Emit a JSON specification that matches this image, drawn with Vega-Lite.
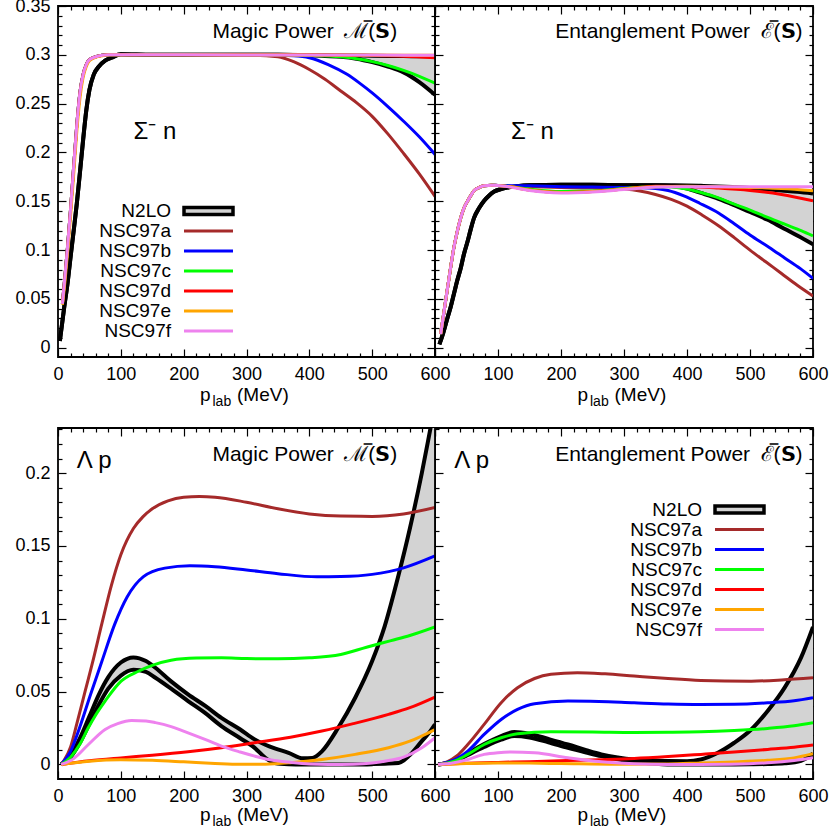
{
"$schema": "https://vega.github.io/schema/vega-lite/v6.json",
"background": "white",
"padding": {"left": 14, "top": -4, "right": 2, "bottom": 2},
"config": {
  "view": {"stroke": "black", "strokeWidth": 1.8},
  "font": "Liberation Sans",
  "axis": {"domain": false, "grid": false, "tickColor": "black", "tickWidth": 1.2, "labelFont": "Liberation Sans", "labelFontSize": 18, "labelColor": "black", "labelPadding": 16, "labelOverlap": false, "labelFlush": false, "labelBound": false},
  "legend": {"labelFont": "Liberation Sans", "labelFontSize": 19, "labelColor": "black"},
  "line": {"interpolate": "monotone"},
  "area": {"interpolate": "monotone"}
},
"datasets": {
"n2lo": [
{"p":"TL","s":"N2LO","x":3,"a":0.007,"b":0.007},{"p":"TL","s":"N2LO","x":10,"a":0.042,"b":0.042},{"p":"TL","s":"N2LO","x":15,"a":0.065,"b":0.065},{"p":"TL","s":"N2LO","x":20,"a":0.093,"b":0.093},{"p":"TL","s":"N2LO","x":25,"a":0.12,"b":0.12},{"p":"TL","s":"N2LO","x":30,"a":0.148,"b":0.148},{"p":"TL","s":"N2LO","x":35,"a":0.18,"b":0.18},{"p":"TL","s":"N2LO","x":40,"a":0.213,"b":0.213},{"p":"TL","s":"N2LO","x":45,"a":0.243,"b":0.243},{"p":"TL","s":"N2LO","x":50,"a":0.264,"b":0.264},{"p":"TL","s":"N2LO","x":57,"a":0.28,"b":0.28},{"p":"TL","s":"N2LO","x":65,"a":0.288,"b":0.288},{"p":"TL","s":"N2LO","x":75,"a":0.294,"b":0.294},{"p":"TL","s":"N2LO","x":85,"a":0.297,"b":0.297},{"p":"TL","s":"N2LO","x":100,"a":0.3005,"b":0.3005},{"p":"TL","s":"N2LO","x":150,"a":0.3,"b":0.3},{"p":"TL","s":"N2LO","x":250,"a":0.3,"b":0.3},{"p":"TL","s":"N2LO","x":350,"a":0.3,"b":0.3},{"p":"TL","s":"N2LO","x":400,"a":0.2998,"b":0.2995},{"p":"TL","s":"N2LO","x":425,"a":0.2997,"b":0.2988},{"p":"TL","s":"N2LO","x":450,"a":0.2995,"b":0.298},{"p":"TL","s":"N2LO","x":475,"a":0.2993,"b":0.296},{"p":"TL","s":"N2LO","x":500,"a":0.2991,"b":0.2925},{"p":"TL","s":"N2LO","x":525,"a":0.2989,"b":0.288},{"p":"TL","s":"N2LO","x":550,"a":0.2987,"b":0.282},{"p":"TL","s":"N2LO","x":575,"a":0.2986,"b":0.272},{"p":"TL","s":"N2LO","x":600,"a":0.2985,"b":0.259},
{"p":"TR","s":"N2LO","x":7,"a":0.0035,"b":0.0035},{"p":"TR","s":"N2LO","x":13,"a":0.015,"b":0.015},{"p":"TR","s":"N2LO","x":20,"a":0.031,"b":0.031},{"p":"TR","s":"N2LO","x":25,"a":0.042,"b":0.042},{"p":"TR","s":"N2LO","x":30,"a":0.055,"b":0.055},{"p":"TR","s":"N2LO","x":35,"a":0.068,"b":0.068},{"p":"TR","s":"N2LO","x":41,"a":0.082,"b":0.082},{"p":"TR","s":"N2LO","x":46,"a":0.096,"b":0.096},{"p":"TR","s":"N2LO","x":52,"a":0.1095,"b":0.1095},{"p":"TR","s":"N2LO","x":57,"a":0.122,"b":0.122},{"p":"TR","s":"N2LO","x":62,"a":0.133,"b":0.133},{"p":"TR","s":"N2LO","x":70,"a":0.143,"b":0.143},{"p":"TR","s":"N2LO","x":78,"a":0.1505,"b":0.1505},{"p":"TR","s":"N2LO","x":86,"a":0.156,"b":0.156},{"p":"TR","s":"N2LO","x":94,"a":0.16,"b":0.16},{"p":"TR","s":"N2LO","x":105,"a":0.1625,"b":0.1625},{"p":"TR","s":"N2LO","x":115,"a":0.164,"b":0.164},{"p":"TR","s":"N2LO","x":130,"a":0.1655,"b":0.1655},{"p":"TR","s":"N2LO","x":150,"a":0.1665,"b":0.1665},{"p":"TR","s":"N2LO","x":200,"a":0.1668,"b":0.1668},{"p":"TR","s":"N2LO","x":250,"a":0.1668,"b":0.1668},{"p":"TR","s":"N2LO","x":300,"a":0.1665,"b":0.1665},{"p":"TR","s":"N2LO","x":350,"a":0.1665,"b":0.1665},{"p":"TR","s":"N2LO","x":380,"a":0.1664,"b":0.1655},{"p":"TR","s":"N2LO","x":400,"a":0.1662,"b":0.163},{"p":"TR","s":"N2LO","x":422,"a":0.1658,"b":0.1585},{"p":"TR","s":"N2LO","x":450,"a":0.1652,"b":0.1525},{"p":"TR","s":"N2LO","x":475,"a":0.1644,"b":0.146},{"p":"TR","s":"N2LO","x":500,"a":0.1635,"b":0.139},{"p":"TR","s":"N2LO","x":528,"a":0.1622,"b":0.131},{"p":"TR","s":"N2LO","x":550,"a":0.161,"b":0.1235},{"p":"TR","s":"N2LO","x":575,"a":0.1597,"b":0.115},{"p":"TR","s":"N2LO","x":600,"a":0.158,"b":0.106},
{"p":"BL","s":"N2LO","x":5,"a":0,"b":0},{"p":"BL","s":"N2LO","x":20,"a":0.006,"b":0.005},{"p":"BL","s":"N2LO","x":35,"a":0.018,"b":0.015},{"p":"BL","s":"N2LO","x":50,"a":0.033,"b":0.028},{"p":"BL","s":"N2LO","x":65,"a":0.048,"b":0.041},{"p":"BL","s":"N2LO","x":80,"a":0.06,"b":0.052},{"p":"BL","s":"N2LO","x":100,"a":0.07,"b":0.061},{"p":"BL","s":"N2LO","x":120,"a":0.0735,"b":0.065},{"p":"BL","s":"N2LO","x":140,"a":0.071,"b":0.0635},{"p":"BL","s":"N2LO","x":155,"a":0.0664,"b":0.0595},{"p":"BL","s":"N2LO","x":180,"a":0.057,"b":0.052},{"p":"BL","s":"N2LO","x":207,"a":0.0481,"b":0.0435},{"p":"BL","s":"N2LO","x":235,"a":0.04,"b":0.035},{"p":"BL","s":"N2LO","x":260,"a":0.032,"b":0.0263},{"p":"BL","s":"N2LO","x":290,"a":0.024,"b":0.018},{"p":"BL","s":"N2LO","x":313,"a":0.0172,"b":0.0114},{"p":"BL","s":"N2LO","x":330,"a":0.0135,"b":0.0045},{"p":"BL","s":"N2LO","x":345,"a":0.011,"b":0.001},{"p":"BL","s":"N2LO","x":367,"a":0.008,"b":0.0002},{"p":"BL","s":"N2LO","x":390,"a":0.0042,"b":0},{"p":"BL","s":"N2LO","x":405,"a":0.0045,"b":0},{"p":"BL","s":"N2LO","x":420,"a":0.009,"b":0},{"p":"BL","s":"N2LO","x":446,"a":0.0252,"b":0},{"p":"BL","s":"N2LO","x":473,"a":0.0458,"b":0},{"p":"BL","s":"N2LO","x":500,"a":0.071,"b":0.0002},{"p":"BL","s":"N2LO","x":520,"a":0.095,"b":0.0005},{"p":"BL","s":"N2LO","x":542,"a":0.13,"b":0.001},{"p":"BL","s":"N2LO","x":560,"a":0.162,"b":0.0065},{"p":"BL","s":"N2LO","x":579,"a":0.2,"b":0.016},{"p":"BL","s":"N2LO","x":592,"a":0.229,"b":0.0225},{"p":"BL","s":"N2LO","x":600,"a":0.247,"b":0.0275},
{"p":"BR","s":"N2LO","x":5,"a":0,"b":0},{"p":"BR","s":"N2LO","x":20,"a":0.001,"b":0.001},{"p":"BR","s":"N2LO","x":35,"a":0.003,"b":0.0028},{"p":"BR","s":"N2LO","x":52,"a":0.0075,"b":0.0065},{"p":"BR","s":"N2LO","x":78,"a":0.014,"b":0.012},{"p":"BR","s":"N2LO","x":105,"a":0.0195,"b":0.017},{"p":"BR","s":"N2LO","x":126,"a":0.0222,"b":0.0195},{"p":"BR","s":"N2LO","x":150,"a":0.021,"b":0.0185},{"p":"BR","s":"N2LO","x":180,"a":0.0175,"b":0.0152},{"p":"BR","s":"N2LO","x":211,"a":0.0137,"b":0.0114},{"p":"BR","s":"N2LO","x":240,"a":0.0098,"b":0.0082},{"p":"BR","s":"N2LO","x":264,"a":0.0069,"b":0.0057},{"p":"BR","s":"N2LO","x":290,"a":0.0048,"b":0.0035},{"p":"BR","s":"N2LO","x":316,"a":0.0034,"b":0.0018},{"p":"BR","s":"N2LO","x":345,"a":0.0027,"b":0.0006},{"p":"BR","s":"N2LO","x":369,"a":0.0023,"b":0},{"p":"BR","s":"N2LO","x":400,"a":0.0022,"b":0},{"p":"BR","s":"N2LO","x":422,"a":0.0034,"b":0},{"p":"BR","s":"N2LO","x":449,"a":0.008,"b":0},{"p":"BR","s":"N2LO","x":475,"a":0.0149,"b":0},{"p":"BR","s":"N2LO","x":502,"a":0.024,"b":0.0001},{"p":"BR","s":"N2LO","x":528,"a":0.0367,"b":0.0003},{"p":"BR","s":"N2LO","x":555,"a":0.0527,"b":0.0008},{"p":"BR","s":"N2LO","x":581,"a":0.0733,"b":0.0025},{"p":"BR","s":"N2LO","x":600,"a":0.0944,"b":0.0075}
],
"nsc": [
{"p":"TL","s":"NSC97a","x":7,"y":0.045},{"p":"TL","s":"NSC97a","x":10,"y":0.066},{"p":"TL","s":"NSC97a","x":15,"y":0.102},{"p":"TL","s":"NSC97a","x":20,"y":0.142},{"p":"TL","s":"NSC97a","x":25,"y":0.186},{"p":"TL","s":"NSC97a","x":30,"y":0.229},{"p":"TL","s":"NSC97a","x":35,"y":0.262},{"p":"TL","s":"NSC97a","x":40,"y":0.28},{"p":"TL","s":"NSC97a","x":45,"y":0.29},{"p":"TL","s":"NSC97a","x":50,"y":0.295},{"p":"TL","s":"NSC97a","x":60,"y":0.298},{"p":"TL","s":"NSC97a","x":70,"y":0.2995},{"p":"TL","s":"NSC97a","x":80,"y":0.3},{"p":"TL","s":"NSC97a","x":200,"y":0.3},{"p":"TL","s":"NSC97a","x":300,"y":0.2998},{"p":"TL","s":"NSC97a","x":350,"y":0.298},{"p":"TL","s":"NSC97a","x":375,"y":0.293},{"p":"TL","s":"NSC97a","x":400,"y":0.285},{"p":"TL","s":"NSC97a","x":425,"y":0.275},{"p":"TL","s":"NSC97a","x":450,"y":0.263},{"p":"TL","s":"NSC97a","x":475,"y":0.251},{"p":"TL","s":"NSC97a","x":500,"y":0.237},{"p":"TL","s":"NSC97a","x":525,"y":0.219},{"p":"TL","s":"NSC97a","x":550,"y":0.199},{"p":"TL","s":"NSC97a","x":575,"y":0.178},{"p":"TL","s":"NSC97a","x":600,"y":0.155},
{"p":"TL","s":"NSC97b","x":7,"y":0.045},{"p":"TL","s":"NSC97b","x":10,"y":0.066},{"p":"TL","s":"NSC97b","x":15,"y":0.102},{"p":"TL","s":"NSC97b","x":20,"y":0.142},{"p":"TL","s":"NSC97b","x":25,"y":0.186},{"p":"TL","s":"NSC97b","x":30,"y":0.229},{"p":"TL","s":"NSC97b","x":35,"y":0.262},{"p":"TL","s":"NSC97b","x":40,"y":0.28},{"p":"TL","s":"NSC97b","x":45,"y":0.29},{"p":"TL","s":"NSC97b","x":50,"y":0.295},{"p":"TL","s":"NSC97b","x":60,"y":0.298},{"p":"TL","s":"NSC97b","x":70,"y":0.2995},{"p":"TL","s":"NSC97b","x":80,"y":0.3},{"p":"TL","s":"NSC97b","x":250,"y":0.3},{"p":"TL","s":"NSC97b","x":350,"y":0.2995},{"p":"TL","s":"NSC97b","x":375,"y":0.299},{"p":"TL","s":"NSC97b","x":400,"y":0.297},{"p":"TL","s":"NSC97b","x":430,"y":0.29},{"p":"TL","s":"NSC97b","x":460,"y":0.28},{"p":"TL","s":"NSC97b","x":480,"y":0.271},{"p":"TL","s":"NSC97b","x":500,"y":0.261},{"p":"TL","s":"NSC97b","x":525,"y":0.247},{"p":"TL","s":"NSC97b","x":550,"y":0.232},{"p":"TL","s":"NSC97b","x":575,"y":0.216},{"p":"TL","s":"NSC97b","x":600,"y":0.198},
{"p":"TL","s":"NSC97c","x":7,"y":0.045},{"p":"TL","s":"NSC97c","x":10,"y":0.066},{"p":"TL","s":"NSC97c","x":15,"y":0.102},{"p":"TL","s":"NSC97c","x":20,"y":0.142},{"p":"TL","s":"NSC97c","x":25,"y":0.186},{"p":"TL","s":"NSC97c","x":30,"y":0.229},{"p":"TL","s":"NSC97c","x":35,"y":0.262},{"p":"TL","s":"NSC97c","x":40,"y":0.28},{"p":"TL","s":"NSC97c","x":45,"y":0.29},{"p":"TL","s":"NSC97c","x":50,"y":0.295},{"p":"TL","s":"NSC97c","x":60,"y":0.298},{"p":"TL","s":"NSC97c","x":70,"y":0.2995},{"p":"TL","s":"NSC97c","x":80,"y":0.3},{"p":"TL","s":"NSC97c","x":350,"y":0.3},{"p":"TL","s":"NSC97c","x":400,"y":0.2995},{"p":"TL","s":"NSC97c","x":450,"y":0.298},{"p":"TL","s":"NSC97c","x":475,"y":0.296},{"p":"TL","s":"NSC97c","x":500,"y":0.293},{"p":"TL","s":"NSC97c","x":525,"y":0.289},{"p":"TL","s":"NSC97c","x":550,"y":0.284},{"p":"TL","s":"NSC97c","x":575,"y":0.278},{"p":"TL","s":"NSC97c","x":600,"y":0.271},
{"p":"TL","s":"NSC97d","x":7,"y":0.045},{"p":"TL","s":"NSC97d","x":10,"y":0.066},{"p":"TL","s":"NSC97d","x":15,"y":0.102},{"p":"TL","s":"NSC97d","x":20,"y":0.142},{"p":"TL","s":"NSC97d","x":25,"y":0.186},{"p":"TL","s":"NSC97d","x":30,"y":0.229},{"p":"TL","s":"NSC97d","x":35,"y":0.262},{"p":"TL","s":"NSC97d","x":40,"y":0.28},{"p":"TL","s":"NSC97d","x":45,"y":0.29},{"p":"TL","s":"NSC97d","x":50,"y":0.295},{"p":"TL","s":"NSC97d","x":60,"y":0.298},{"p":"TL","s":"NSC97d","x":70,"y":0.2995},{"p":"TL","s":"NSC97d","x":80,"y":0.3},{"p":"TL","s":"NSC97d","x":400,"y":0.3},{"p":"TL","s":"NSC97d","x":450,"y":0.2998},{"p":"TL","s":"NSC97d","x":500,"y":0.2993},{"p":"TL","s":"NSC97d","x":550,"y":0.2985},{"p":"TL","s":"NSC97d","x":600,"y":0.297},
{"p":"TL","s":"NSC97e","x":7,"y":0.044},{"p":"TL","s":"NSC97e","x":10,"y":0.061},{"p":"TL","s":"NSC97e","x":15,"y":0.096},{"p":"TL","s":"NSC97e","x":20,"y":0.135},{"p":"TL","s":"NSC97e","x":25,"y":0.178},{"p":"TL","s":"NSC97e","x":30,"y":0.222},{"p":"TL","s":"NSC97e","x":35,"y":0.256},{"p":"TL","s":"NSC97e","x":40,"y":0.277},{"p":"TL","s":"NSC97e","x":45,"y":0.288},{"p":"TL","s":"NSC97e","x":50,"y":0.294},{"p":"TL","s":"NSC97e","x":60,"y":0.2975},{"p":"TL","s":"NSC97e","x":70,"y":0.299},{"p":"TL","s":"NSC97e","x":80,"y":0.3},{"p":"TL","s":"NSC97e","x":200,"y":0.3},{"p":"TL","s":"NSC97e","x":400,"y":0.2998},{"p":"TL","s":"NSC97e","x":500,"y":0.2997},{"p":"TL","s":"NSC97e","x":600,"y":0.2995},
{"p":"TL","s":"NSC97f","x":7,"y":0.045},{"p":"TL","s":"NSC97f","x":10,"y":0.066},{"p":"TL","s":"NSC97f","x":15,"y":0.102},{"p":"TL","s":"NSC97f","x":20,"y":0.142},{"p":"TL","s":"NSC97f","x":25,"y":0.186},{"p":"TL","s":"NSC97f","x":30,"y":0.229},{"p":"TL","s":"NSC97f","x":35,"y":0.262},{"p":"TL","s":"NSC97f","x":40,"y":0.28},{"p":"TL","s":"NSC97f","x":45,"y":0.29},{"p":"TL","s":"NSC97f","x":50,"y":0.295},{"p":"TL","s":"NSC97f","x":60,"y":0.298},{"p":"TL","s":"NSC97f","x":70,"y":0.2995},{"p":"TL","s":"NSC97f","x":80,"y":0.3},{"p":"TL","s":"NSC97f","x":200,"y":0.3},{"p":"TL","s":"NSC97f","x":400,"y":0.2998},{"p":"TL","s":"NSC97f","x":500,"y":0.2997},{"p":"TL","s":"NSC97f","x":600,"y":0.2996},

{"p":"TR","s":"NSC97a","x":9,"y":0.014},{"p":"TR","s":"NSC97a","x":15,"y":0.04},{"p":"TR","s":"NSC97a","x":20,"y":0.0616},{"p":"TR","s":"NSC97a","x":25,"y":0.083},{"p":"TR","s":"NSC97a","x":30,"y":0.1026},{"p":"TR","s":"NSC97a","x":35,"y":0.118},{"p":"TR","s":"NSC97a","x":41,"y":0.1334},{"p":"TR","s":"NSC97a","x":46,"y":0.143},{"p":"TR","s":"NSC97a","x":52,"y":0.1505},{"p":"TR","s":"NSC97a","x":57,"y":0.156},{"p":"TR","s":"NSC97a","x":62,"y":0.1608},{"p":"TR","s":"NSC97a","x":70,"y":0.164},{"p":"TR","s":"NSC97a","x":78,"y":0.166},{"p":"TR","s":"NSC97a","x":90,"y":0.1665},{"p":"TR","s":"NSC97a","x":100,"y":0.1662},{"p":"TR","s":"NSC97a","x":120,"y":0.1655},{"p":"TR","s":"NSC97a","x":150,"y":0.165},{"p":"TR","s":"NSC97a","x":200,"y":0.164},{"p":"TR","s":"NSC97a","x":250,"y":0.1635},{"p":"TR","s":"NSC97a","x":280,"y":0.1632},{"p":"TR","s":"NSC97a","x":300,"y":0.1625},{"p":"TR","s":"NSC97a","x":325,"y":0.1605},{"p":"TR","s":"NSC97a","x":350,"y":0.157},{"p":"TR","s":"NSC97a","x":375,"y":0.152},{"p":"TR","s":"NSC97a","x":400,"y":0.145},{"p":"TR","s":"NSC97a","x":425,"y":0.1355},{"p":"TR","s":"NSC97a","x":450,"y":0.125},{"p":"TR","s":"NSC97a","x":475,"y":0.1128},{"p":"TR","s":"NSC97a","x":500,"y":0.1},{"p":"TR","s":"NSC97a","x":525,"y":0.088},{"p":"TR","s":"NSC97a","x":550,"y":0.076},{"p":"TR","s":"NSC97a","x":575,"y":0.064},{"p":"TR","s":"NSC97a","x":600,"y":0.053},
{"p":"TR","s":"NSC97b","x":9,"y":0.014},{"p":"TR","s":"NSC97b","x":15,"y":0.04},{"p":"TR","s":"NSC97b","x":20,"y":0.0616},{"p":"TR","s":"NSC97b","x":25,"y":0.083},{"p":"TR","s":"NSC97b","x":30,"y":0.1026},{"p":"TR","s":"NSC97b","x":35,"y":0.118},{"p":"TR","s":"NSC97b","x":41,"y":0.1334},{"p":"TR","s":"NSC97b","x":46,"y":0.143},{"p":"TR","s":"NSC97b","x":52,"y":0.1505},{"p":"TR","s":"NSC97b","x":57,"y":0.156},{"p":"TR","s":"NSC97b","x":62,"y":0.1608},{"p":"TR","s":"NSC97b","x":70,"y":0.164},{"p":"TR","s":"NSC97b","x":78,"y":0.166},{"p":"TR","s":"NSC97b","x":90,"y":0.1665},{"p":"TR","s":"NSC97b","x":100,"y":0.1662},{"p":"TR","s":"NSC97b","x":120,"y":0.166},{"p":"TR","s":"NSC97b","x":150,"y":0.1658},{"p":"TR","s":"NSC97b","x":200,"y":0.165},{"p":"TR","s":"NSC97b","x":250,"y":0.1645},{"p":"TR","s":"NSC97b","x":300,"y":0.164},{"p":"TR","s":"NSC97b","x":330,"y":0.1638},{"p":"TR","s":"NSC97b","x":350,"y":0.163},{"p":"TR","s":"NSC97b","x":370,"y":0.161},{"p":"TR","s":"NSC97b","x":395,"y":0.1555},{"p":"TR","s":"NSC97b","x":420,"y":0.148},{"p":"TR","s":"NSC97b","x":450,"y":0.138},{"p":"TR","s":"NSC97b","x":475,"y":0.127},{"p":"TR","s":"NSC97b","x":500,"y":0.1155},{"p":"TR","s":"NSC97b","x":530,"y":0.103},{"p":"TR","s":"NSC97b","x":555,"y":0.092},{"p":"TR","s":"NSC97b","x":580,"y":0.081},{"p":"TR","s":"NSC97b","x":600,"y":0.071},
{"p":"TR","s":"NSC97c","x":9,"y":0.014},{"p":"TR","s":"NSC97c","x":15,"y":0.04},{"p":"TR","s":"NSC97c","x":20,"y":0.0616},{"p":"TR","s":"NSC97c","x":25,"y":0.083},{"p":"TR","s":"NSC97c","x":30,"y":0.1026},{"p":"TR","s":"NSC97c","x":35,"y":0.118},{"p":"TR","s":"NSC97c","x":41,"y":0.1334},{"p":"TR","s":"NSC97c","x":46,"y":0.143},{"p":"TR","s":"NSC97c","x":52,"y":0.1505},{"p":"TR","s":"NSC97c","x":57,"y":0.156},{"p":"TR","s":"NSC97c","x":62,"y":0.1608},{"p":"TR","s":"NSC97c","x":70,"y":0.164},{"p":"TR","s":"NSC97c","x":78,"y":0.166},{"p":"TR","s":"NSC97c","x":90,"y":0.1665},{"p":"TR","s":"NSC97c","x":100,"y":0.1662},{"p":"TR","s":"NSC97c","x":120,"y":0.165},{"p":"TR","s":"NSC97c","x":150,"y":0.1625},{"p":"TR","s":"NSC97c","x":200,"y":0.16},{"p":"TR","s":"NSC97c","x":250,"y":0.1605},{"p":"TR","s":"NSC97c","x":300,"y":0.163},{"p":"TR","s":"NSC97c","x":340,"y":0.165},{"p":"TR","s":"NSC97c","x":370,"y":0.1648},{"p":"TR","s":"NSC97c","x":400,"y":0.1625},{"p":"TR","s":"NSC97c","x":422,"y":0.159},{"p":"TR","s":"NSC97c","x":450,"y":0.1535},{"p":"TR","s":"NSC97c","x":475,"y":0.147},{"p":"TR","s":"NSC97c","x":500,"y":0.141},{"p":"TR","s":"NSC97c","x":528,"y":0.1334},{"p":"TR","s":"NSC97c","x":555,"y":0.1265},{"p":"TR","s":"NSC97c","x":581,"y":0.12},{"p":"TR","s":"NSC97c","x":600,"y":0.1146},
{"p":"TR","s":"NSC97d","x":9,"y":0.014},{"p":"TR","s":"NSC97d","x":15,"y":0.04},{"p":"TR","s":"NSC97d","x":20,"y":0.0616},{"p":"TR","s":"NSC97d","x":25,"y":0.083},{"p":"TR","s":"NSC97d","x":30,"y":0.1026},{"p":"TR","s":"NSC97d","x":35,"y":0.118},{"p":"TR","s":"NSC97d","x":41,"y":0.1334},{"p":"TR","s":"NSC97d","x":46,"y":0.143},{"p":"TR","s":"NSC97d","x":52,"y":0.1505},{"p":"TR","s":"NSC97d","x":57,"y":0.156},{"p":"TR","s":"NSC97d","x":62,"y":0.1608},{"p":"TR","s":"NSC97d","x":70,"y":0.164},{"p":"TR","s":"NSC97d","x":78,"y":0.166},{"p":"TR","s":"NSC97d","x":90,"y":0.1665},{"p":"TR","s":"NSC97d","x":100,"y":0.1662},{"p":"TR","s":"NSC97d","x":120,"y":0.1648},{"p":"TR","s":"NSC97d","x":150,"y":0.1615},{"p":"TR","s":"NSC97d","x":200,"y":0.159},{"p":"TR","s":"NSC97d","x":250,"y":0.16},{"p":"TR","s":"NSC97d","x":300,"y":0.1625},{"p":"TR","s":"NSC97d","x":350,"y":0.1655},{"p":"TR","s":"NSC97d","x":400,"y":0.1652},{"p":"TR","s":"NSC97d","x":450,"y":0.1635},{"p":"TR","s":"NSC97d","x":500,"y":0.161},{"p":"TR","s":"NSC97d","x":550,"y":0.157},{"p":"TR","s":"NSC97d","x":600,"y":0.1505},
{"p":"TR","s":"NSC97e","x":9,"y":0.014},{"p":"TR","s":"NSC97e","x":15,"y":0.04},{"p":"TR","s":"NSC97e","x":20,"y":0.0616},{"p":"TR","s":"NSC97e","x":25,"y":0.083},{"p":"TR","s":"NSC97e","x":30,"y":0.1026},{"p":"TR","s":"NSC97e","x":35,"y":0.118},{"p":"TR","s":"NSC97e","x":41,"y":0.1334},{"p":"TR","s":"NSC97e","x":46,"y":0.143},{"p":"TR","s":"NSC97e","x":52,"y":0.1505},{"p":"TR","s":"NSC97e","x":57,"y":0.156},{"p":"TR","s":"NSC97e","x":62,"y":0.1608},{"p":"TR","s":"NSC97e","x":70,"y":0.164},{"p":"TR","s":"NSC97e","x":78,"y":0.166},{"p":"TR","s":"NSC97e","x":90,"y":0.1665},{"p":"TR","s":"NSC97e","x":100,"y":0.1662},{"p":"TR","s":"NSC97e","x":120,"y":0.1648},{"p":"TR","s":"NSC97e","x":150,"y":0.1615},{"p":"TR","s":"NSC97e","x":200,"y":0.159},{"p":"TR","s":"NSC97e","x":250,"y":0.16},{"p":"TR","s":"NSC97e","x":300,"y":0.1625},{"p":"TR","s":"NSC97e","x":350,"y":0.165},{"p":"TR","s":"NSC97e","x":400,"y":0.1653},{"p":"TR","s":"NSC97e","x":450,"y":0.165},{"p":"TR","s":"NSC97e","x":500,"y":0.1642},{"p":"TR","s":"NSC97e","x":550,"y":0.163},{"p":"TR","s":"NSC97e","x":600,"y":0.1608},
{"p":"TR","s":"NSC97f","x":9,"y":0.014},{"p":"TR","s":"NSC97f","x":15,"y":0.04},{"p":"TR","s":"NSC97f","x":20,"y":0.0616},{"p":"TR","s":"NSC97f","x":25,"y":0.083},{"p":"TR","s":"NSC97f","x":30,"y":0.1026},{"p":"TR","s":"NSC97f","x":35,"y":0.118},{"p":"TR","s":"NSC97f","x":41,"y":0.1334},{"p":"TR","s":"NSC97f","x":46,"y":0.143},{"p":"TR","s":"NSC97f","x":52,"y":0.1505},{"p":"TR","s":"NSC97f","x":57,"y":0.156},{"p":"TR","s":"NSC97f","x":62,"y":0.1608},{"p":"TR","s":"NSC97f","x":70,"y":0.164},{"p":"TR","s":"NSC97f","x":78,"y":0.166},{"p":"TR","s":"NSC97f","x":90,"y":0.1665},{"p":"TR","s":"NSC97f","x":100,"y":0.1662},{"p":"TR","s":"NSC97f","x":120,"y":0.1645},{"p":"TR","s":"NSC97f","x":150,"y":0.161},{"p":"TR","s":"NSC97f","x":200,"y":0.1585},{"p":"TR","s":"NSC97f","x":250,"y":0.1595},{"p":"TR","s":"NSC97f","x":300,"y":0.162},{"p":"TR","s":"NSC97f","x":350,"y":0.1645},{"p":"TR","s":"NSC97f","x":400,"y":0.165},{"p":"TR","s":"NSC97f","x":500,"y":0.165},{"p":"TR","s":"NSC97f","x":600,"y":0.165},

{"p":"BL","s":"NSC97a","x":5,"y":0},{"p":"BL","s":"NSC97a","x":10,"y":0.003},{"p":"BL","s":"NSC97a","x":20,"y":0.012},{"p":"BL","s":"NSC97a","x":30,"y":0.028},{"p":"BL","s":"NSC97a","x":43,"y":0.05},{"p":"BL","s":"NSC97a","x":55,"y":0.07},{"p":"BL","s":"NSC97a","x":70,"y":0.097},{"p":"BL","s":"NSC97a","x":85,"y":0.123},{"p":"BL","s":"NSC97a","x":100,"y":0.144},{"p":"BL","s":"NSC97a","x":120,"y":0.162},{"p":"BL","s":"NSC97a","x":135,"y":0.17},{"p":"BL","s":"NSC97a","x":150,"y":0.1755},{"p":"BL","s":"NSC97a","x":175,"y":0.181},{"p":"BL","s":"NSC97a","x":200,"y":0.1835},{"p":"BL","s":"NSC97a","x":225,"y":0.184},{"p":"BL","s":"NSC97a","x":250,"y":0.1835},{"p":"BL","s":"NSC97a","x":300,"y":0.18},{"p":"BL","s":"NSC97a","x":350,"y":0.1755},{"p":"BL","s":"NSC97a","x":400,"y":0.172},{"p":"BL","s":"NSC97a","x":450,"y":0.1705},{"p":"BL","s":"NSC97a","x":500,"y":0.1703},{"p":"BL","s":"NSC97a","x":550,"y":0.172},{"p":"BL","s":"NSC97a","x":600,"y":0.1765},
{"p":"BL","s":"NSC97b","x":5,"y":0},{"p":"BL","s":"NSC97b","x":20,"y":0.009},{"p":"BL","s":"NSC97b","x":35,"y":0.026},{"p":"BL","s":"NSC97b","x":51,"y":0.047},{"p":"BL","s":"NSC97b","x":70,"y":0.071},{"p":"BL","s":"NSC97b","x":90,"y":0.096},{"p":"BL","s":"NSC97b","x":110,"y":0.115},{"p":"BL","s":"NSC97b","x":136,"y":0.129},{"p":"BL","s":"NSC97b","x":170,"y":0.1348},{"p":"BL","s":"NSC97b","x":210,"y":0.1365},{"p":"BL","s":"NSC97b","x":250,"y":0.1358},{"p":"BL","s":"NSC97b","x":300,"y":0.1335},{"p":"BL","s":"NSC97b","x":350,"y":0.131},{"p":"BL","s":"NSC97b","x":412,"y":0.1288},{"p":"BL","s":"NSC97b","x":450,"y":0.129},{"p":"BL","s":"NSC97b","x":500,"y":0.1305},{"p":"BL","s":"NSC97b","x":550,"y":0.135},{"p":"BL","s":"NSC97b","x":600,"y":0.1432},
{"p":"BL","s":"NSC97c","x":5,"y":0},{"p":"BL","s":"NSC97c","x":20,"y":0.005},{"p":"BL","s":"NSC97c","x":35,"y":0.014},{"p":"BL","s":"NSC97c","x":48,"y":0.025},{"p":"BL","s":"NSC97c","x":60,"y":0.034},{"p":"BL","s":"NSC97c","x":75,"y":0.0435},{"p":"BL","s":"NSC97c","x":100,"y":0.057},{"p":"BL","s":"NSC97c","x":128,"y":0.064},{"p":"BL","s":"NSC97c","x":150,"y":0.068},{"p":"BL","s":"NSC97c","x":180,"y":0.0715},{"p":"BL","s":"NSC97c","x":220,"y":0.073},{"p":"BL","s":"NSC97c","x":260,"y":0.0732},{"p":"BL","s":"NSC97c","x":300,"y":0.0727},{"p":"BL","s":"NSC97c","x":350,"y":0.0725},{"p":"BL","s":"NSC97c","x":400,"y":0.0732},{"p":"BL","s":"NSC97c","x":450,"y":0.0755},{"p":"BL","s":"NSC97c","x":491,"y":0.0805},{"p":"BL","s":"NSC97c","x":530,"y":0.085},{"p":"BL","s":"NSC97c","x":560,"y":0.0885},{"p":"BL","s":"NSC97c","x":600,"y":0.0944},
{"p":"BL","s":"NSC97d","x":5,"y":0},{"p":"BL","s":"NSC97d","x":50,"y":0.0025},{"p":"BL","s":"NSC97d","x":100,"y":0.0045},{"p":"BL","s":"NSC97d","x":150,"y":0.0063},{"p":"BL","s":"NSC97d","x":207,"y":0.0087},{"p":"BL","s":"NSC97d","x":260,"y":0.0115},{"p":"BL","s":"NSC97d","x":313,"y":0.0149},{"p":"BL","s":"NSC97d","x":370,"y":0.0187},{"p":"BL","s":"NSC97d","x":420,"y":0.0229},{"p":"BL","s":"NSC97d","x":470,"y":0.028},{"p":"BL","s":"NSC97d","x":526,"y":0.0344},{"p":"BL","s":"NSC97d","x":560,"y":0.039},{"p":"BL","s":"NSC97d","x":600,"y":0.0463},
{"p":"BL","s":"NSC97e","x":5,"y":0},{"p":"BL","s":"NSC97e","x":50,"y":0.0022},{"p":"BL","s":"NSC97e","x":100,"y":0.0032},{"p":"BL","s":"NSC97e","x":150,"y":0.0028},{"p":"BL","s":"NSC97e","x":200,"y":0.0018},{"p":"BL","s":"NSC97e","x":250,"y":0.0007},{"p":"BL","s":"NSC97e","x":290,"y":0.0001},{"p":"BL","s":"NSC97e","x":330,"y":0.0002},{"p":"BL","s":"NSC97e","x":370,"y":0.0012},{"p":"BL","s":"NSC97e","x":420,"y":0.0034},{"p":"BL","s":"NSC97e","x":473,"y":0.0069},{"p":"BL","s":"NSC97e","x":526,"y":0.0115},{"p":"BL","s":"NSC97e","x":560,"y":0.016},{"p":"BL","s":"NSC97e","x":600,"y":0.024},
{"p":"BL","s":"NSC97f","x":5,"y":0},{"p":"BL","s":"NSC97f","x":25,"y":0.004},{"p":"BL","s":"NSC97f","x":48,"y":0.0135},{"p":"BL","s":"NSC97f","x":75,"y":0.024},{"p":"BL","s":"NSC97f","x":95,"y":0.028},{"p":"BL","s":"NSC97f","x":117,"y":0.0302},{"p":"BL","s":"NSC97f","x":140,"y":0.0298},{"p":"BL","s":"NSC97f","x":155,"y":0.0287},{"p":"BL","s":"NSC97f","x":180,"y":0.026},{"p":"BL","s":"NSC97f","x":207,"y":0.0217},{"p":"BL","s":"NSC97f","x":235,"y":0.017},{"p":"BL","s":"NSC97f","x":260,"y":0.0126},{"p":"BL","s":"NSC97f","x":290,"y":0.0085},{"p":"BL","s":"NSC97f","x":313,"y":0.0057},{"p":"BL","s":"NSC97f","x":340,"y":0.003},{"p":"BL","s":"NSC97f","x":367,"y":0.0016},{"p":"BL","s":"NSC97f","x":400,"y":0.0003},{"p":"BL","s":"NSC97f","x":430,"y":0},{"p":"BL","s":"NSC97f","x":470,"y":0.0002},{"p":"BL","s":"NSC97f","x":500,"y":0.001},{"p":"BL","s":"NSC97f","x":526,"y":0.0027},{"p":"BL","s":"NSC97f","x":550,"y":0.005},{"p":"BL","s":"NSC97f","x":579,"y":0.0114},{"p":"BL","s":"NSC97f","x":600,"y":0.0183},

{"p":"BR","s":"NSC97a","x":5,"y":0},{"p":"BR","s":"NSC97a","x":20,"y":0.002},{"p":"BR","s":"NSC97a","x":35,"y":0.006},{"p":"BR","s":"NSC97a","x":52,"y":0.0137},{"p":"BR","s":"NSC97a","x":78,"y":0.0275},{"p":"BR","s":"NSC97a","x":105,"y":0.0424},{"p":"BR","s":"NSC97a","x":131,"y":0.0527},{"p":"BR","s":"NSC97a","x":158,"y":0.059},{"p":"BR","s":"NSC97a","x":184,"y":0.0619},{"p":"BR","s":"NSC97a","x":226,"y":0.063},{"p":"BR","s":"NSC97a","x":270,"y":0.0622},{"p":"BR","s":"NSC97a","x":316,"y":0.0607},{"p":"BR","s":"NSC97a","x":370,"y":0.059},{"p":"BR","s":"NSC97a","x":422,"y":0.0577},{"p":"BR","s":"NSC97a","x":460,"y":0.0573},{"p":"BR","s":"NSC97a","x":502,"y":0.0572},{"p":"BR","s":"NSC97a","x":550,"y":0.058},{"p":"BR","s":"NSC97a","x":600,"y":0.0595},
{"p":"BR","s":"NSC97b","x":5,"y":0},{"p":"BR","s":"NSC97b","x":20,"y":0.0015},{"p":"BR","s":"NSC97b","x":35,"y":0.004},{"p":"BR","s":"NSC97b","x":52,"y":0.0091},{"p":"BR","s":"NSC97b","x":78,"y":0.0206},{"p":"BR","s":"NSC97b","x":105,"y":0.0309},{"p":"BR","s":"NSC97b","x":131,"y":0.0378},{"p":"BR","s":"NSC97b","x":158,"y":0.0417},{"p":"BR","s":"NSC97b","x":211,"y":0.0435},{"p":"BR","s":"NSC97b","x":260,"y":0.0432},{"p":"BR","s":"NSC97b","x":316,"y":0.0423},{"p":"BR","s":"NSC97b","x":370,"y":0.0415},{"p":"BR","s":"NSC97b","x":422,"y":0.0412},{"p":"BR","s":"NSC97b","x":475,"y":0.0413},{"p":"BR","s":"NSC97b","x":528,"y":0.0423},{"p":"BR","s":"NSC97b","x":570,"y":0.0437},{"p":"BR","s":"NSC97b","x":600,"y":0.0458},
{"p":"BR","s":"NSC97c","x":5,"y":0},{"p":"BR","s":"NSC97c","x":20,"y":0.001},{"p":"BR","s":"NSC97c","x":35,"y":0.003},{"p":"BR","s":"NSC97c","x":52,"y":0.0069},{"p":"BR","s":"NSC97c","x":78,"y":0.0137},{"p":"BR","s":"NSC97c","x":105,"y":0.0183},{"p":"BR","s":"NSC97c","x":131,"y":0.021},{"p":"BR","s":"NSC97c","x":184,"y":0.0224},{"p":"BR","s":"NSC97c","x":250,"y":0.0223},{"p":"BR","s":"NSC97c","x":316,"y":0.022},{"p":"BR","s":"NSC97c","x":370,"y":0.0221},{"p":"BR","s":"NSC97c","x":422,"y":0.0224},{"p":"BR","s":"NSC97c","x":475,"y":0.0233},{"p":"BR","s":"NSC97c","x":528,"y":0.0247},{"p":"BR","s":"NSC97c","x":570,"y":0.0265},{"p":"BR","s":"NSC97c","x":600,"y":0.0286},
{"p":"BR","s":"NSC97d","x":5,"y":0},{"p":"BR","s":"NSC97d","x":50,"y":0.0008},{"p":"BR","s":"NSC97d","x":100,"y":0.0014},{"p":"BR","s":"NSC97d","x":150,"y":0.0019},{"p":"BR","s":"NSC97d","x":211,"y":0.0027},{"p":"BR","s":"NSC97d","x":260,"y":0.0033},{"p":"BR","s":"NSC97d","x":316,"y":0.0041},{"p":"BR","s":"NSC97d","x":370,"y":0.0054},{"p":"BR","s":"NSC97d","x":422,"y":0.0069},{"p":"BR","s":"NSC97d","x":475,"y":0.0085},{"p":"BR","s":"NSC97d","x":528,"y":0.0103},{"p":"BR","s":"NSC97d","x":570,"y":0.0118},{"p":"BR","s":"NSC97d","x":600,"y":0.0133},
{"p":"BR","s":"NSC97e","x":5,"y":0},{"p":"BR","s":"NSC97e","x":50,"y":0.0006},{"p":"BR","s":"NSC97e","x":100,"y":0.001},{"p":"BR","s":"NSC97e","x":150,"y":0.0009},{"p":"BR","s":"NSC97e","x":200,"y":0.0006},{"p":"BR","s":"NSC97e","x":290,"y":0.0001},{"p":"BR","s":"NSC97e","x":370,"y":0.0003},{"p":"BR","s":"NSC97e","x":422,"y":0.001},{"p":"BR","s":"NSC97e","x":475,"y":0.0017},{"p":"BR","s":"NSC97e","x":528,"y":0.0028},{"p":"BR","s":"NSC97e","x":570,"y":0.0045},{"p":"BR","s":"NSC97e","x":600,"y":0.0073},
{"p":"BR","s":"NSC97f","x":5,"y":0},{"p":"BR","s":"NSC97f","x":30,"y":0.0012},{"p":"BR","s":"NSC97f","x":52,"y":0.0034},{"p":"BR","s":"NSC97f","x":78,"y":0.0069},{"p":"BR","s":"NSC97f","x":100,"y":0.0081},{"p":"BR","s":"NSC97f","x":120,"y":0.0085},{"p":"BR","s":"NSC97f","x":158,"y":0.008},{"p":"BR","s":"NSC97f","x":211,"y":0.0046},{"p":"BR","s":"NSC97f","x":264,"y":0.0018},{"p":"BR","s":"NSC97f","x":316,"y":0.0005},{"p":"BR","s":"NSC97f","x":370,"y":0},{"p":"BR","s":"NSC97f","x":420,"y":0},{"p":"BR","s":"NSC97f","x":470,"y":0.0002},{"p":"BR","s":"NSC97f","x":528,"y":0.0011},{"p":"BR","s":"NSC97f","x":570,"y":0.0027},{"p":"BR","s":"NSC97f","x":600,"y":0.0046}
]
},
"spacing": 9,
"resolve": {"scale": {"x": "independent", "y": "independent", "color": "independent", "fill": "independent"}},
"vconcat": [
{
"hconcat": [
{
"width": 377, "height": 351,
"resolve": {"axis": {"x": "independent", "y": "independent"}},
"layer": [
{"data": {"name": "n2lo"}, "transform": [{"filter": "datum.p === 'TL'"}],
 "mark": {"type": "area", "clip": true},
 "encoding": {
  "x": {"field": "x", "type": "quantitative", "scale": {"domain": [0, 600], "nice": false, "zero": false},
   "axis": {"orient": "bottom", "title": null, "values": [0,20,40,60,80,100,120,140,160,180,200,220,240,260,280,300,320,340,360,380,400,420,440,460,480,500,520,540,560,580,600], "tickSize": {"condition": {"test": "datum.value % 100 === 0", "value": -8}, "value": -4}, "labelExpr": "datum.value % 100 === 0 ? format(datum.value, 'd') : ''"}},
  "y": {"field": "a", "type": "quantitative", "scale": {"domain": [-0.0095, 0.35], "nice": false, "zero": false},
   "axis": {"orient": "left", "title": null, "values": [0,0.01,0.02,0.03,0.04,0.05,0.06,0.07,0.08,0.09,0.1,0.11,0.12,0.13,0.14,0.15,0.16,0.17,0.18,0.19,0.2,0.21,0.22,0.23,0.24,0.25,0.26,0.27,0.28,0.29,0.3,0.31,0.32,0.33,0.34,0.35], "tickSize": {"condition": {"test": "round(datum.value*100) % 5 === 0", "value": -8}, "value": -4}, "labelExpr": "round(datum.value*100) % 5 === 0 ? format(datum.value, '~g') : ''"}},
  "y2": {"field": "b"},
  "fill": {"field": "s", "type": "nominal", "scale": {"domain": ["N2LO"], "range": ["#d3d3d3"]},
   "legend": {"orient": "none", "legendX": 141, "legendY": 195.5, "title": null, "padding": 0, "labelAlign": "right", "labelOffset": -47, "labelLimit": 0, "symbolSize": 96, "symbolType": "M-5,-0.7H5V0.7H-5Z", "symbolStrokeColor": "black", "symbolStrokeWidth": 3.5}}
 }},
{"data": {"name": "n2lo"}, "transform": [{"filter": "datum.p === 'TL'"}, {"fold": ["a", "b"], "as": ["bound", "v"]}],
 "mark": {"type": "line", "strokeWidth": 4, "clip": true, "strokeJoin": "round", "color": "black"},
 "encoding": {
  "x": {"field": "x", "type": "quantitative", "scale": {"domain": [0, 600], "nice": false, "zero": false},
   "axis": {"orient": "top", "title": null, "labels": false, "values": [0,20,40,60,80,100,120,140,160,180,200,220,240,260,280,300,320,340,360,380,400,420,440,460,480,500,520,540,560,580,600], "tickSize": {"condition": {"test": "datum.value % 100 === 0", "value": -8}, "value": -4}}},
  "y": {"field": "v", "type": "quantitative", "scale": {"domain": [-0.0095, 0.35], "nice": false, "zero": false},
   "axis": {"orient": "right", "title": null, "labels": false, "values": [0,0.01,0.02,0.03,0.04,0.05,0.06,0.07,0.08,0.09,0.1,0.11,0.12,0.13,0.14,0.15,0.16,0.17,0.18,0.19,0.2,0.21,0.22,0.23,0.24,0.25,0.26,0.27,0.28,0.29,0.3,0.31,0.32,0.33,0.34,0.35], "tickSize": {"condition": {"test": "round(datum.value*100) % 5 === 0", "value": -8}, "value": -4}}},
  "detail": {"field": "bound"}
 }},
{"data": {"name": "nsc"}, "transform": [{"filter": "datum.p === 'TL'"}],
 "mark": {"type": "line", "strokeWidth": 3, "clip": true},
 "encoding": {
  "x": {"field": "x", "type": "quantitative", "scale": {"domain": [0, 600], "nice": false, "zero": false}, "axis": null},
  "y": {"field": "y", "type": "quantitative", "scale": {"domain": [-0.0095, 0.35], "nice": false, "zero": false}, "axis": null},
  "color": {"field": "s", "type": "nominal", "scale": {"domain": ["NSC97a","NSC97b","NSC97c","NSC97d","NSC97e","NSC97f"], "range": ["#a52a2a","#0000ff","#00ff00","#ff0000","#ffa500","#ee82ee"]},
   "legend": {"orient": "none", "legendX": 141, "legendY": 215.5, "title": null, "padding": 0, "labelAlign": "right", "labelOffset": -47, "labelLimit": 0, "rowPadding": 0, "symbolSize": 96, "symbolType": "M-5,0H5", "symbolStrokeWidth": 3}}
 }},
{"data": {"values": [{}]}, "mark": {"type": "text", "text": "Magic Power\u2002\u2133\u0305(\ud835\udde6)", "align": "right", "baseline": "alphabetic", "fontSize": 21, "color": "black"},
 "encoding": {"x": {"datum": 540, "type": "quantitative", "axis": null}, "y": {"datum": 0.317, "type": "quantitative", "axis": null}}},
{"data": {"values": [{}]}, "mark": {"type": "text", "text": "\u03a3\u207b n", "align": "left", "baseline": "alphabetic", "fontSize": 24, "color": "black"},
 "encoding": {"x": {"datum": 120, "type": "quantitative", "axis": null}, "y": {"datum": 0.2138, "type": "quantitative", "axis": null}}},
{"data": {"values": [{}]}, "mark": {"type": "text", "text": "p", "align": "left", "baseline": "alphabetic", "fontSize": 19, "dx": -46.5, "dy": 44, "color": "black"},
 "encoding": {"x": {"datum": 300, "type": "quantitative", "axis": null}, "y": {"datum": -0.0095, "type": "quantitative", "axis": null}}},
{"data": {"values": [{}]}, "mark": {"type": "text", "text": "lab", "align": "left", "baseline": "alphabetic", "fontSize": 14, "dx": -34, "dy": 49, "color": "black"},
 "encoding": {"x": {"datum": 300, "type": "quantitative", "axis": null}, "y": {"datum": -0.0095, "type": "quantitative", "axis": null}}},
{"data": {"values": [{}]}, "mark": {"type": "text", "text": "(MeV)", "align": "left", "baseline": "alphabetic", "fontSize": 19, "dx": -9.5, "dy": 44, "color": "black"},
 "encoding": {"x": {"datum": 300, "type": "quantitative", "axis": null}, "y": {"datum": -0.0095, "type": "quantitative", "axis": null}}}
]
},
{
"width": 378, "height": 351,
"resolve": {"axis": {"x": "independent", "y": "independent"}},
"layer": [
{"data": {"name": "n2lo"}, "transform": [{"filter": "datum.p === 'TR'"}],
 "mark": {"type": "area", "clip": true, "color": "#d3d3d3"},
 "encoding": {
  "x": {"field": "x", "type": "quantitative", "scale": {"domain": [0, 600], "nice": false, "zero": false},
   "axis": {"orient": "bottom", "title": null, "values": [0,20,40,60,80,100,120,140,160,180,200,220,240,260,280,300,320,340,360,380,400,420,440,460,480,500,520,540,560,580,600], "tickSize": {"condition": {"test": "datum.value % 100 === 0", "value": -8}, "value": -4}, "labelExpr": "datum.value % 100 === 0 && datum.value > 0 ? format(datum.value, 'd') : ''"}},
  "y": {"field": "a", "type": "quantitative", "scale": {"domain": [-0.0095, 0.35], "nice": false, "zero": false},
   "axis": {"orient": "left", "title": null, "labels": false, "values": [0,0.01,0.02,0.03,0.04,0.05,0.06,0.07,0.08,0.09,0.1,0.11,0.12,0.13,0.14,0.15,0.16,0.17,0.18,0.19,0.2,0.21,0.22,0.23,0.24,0.25,0.26,0.27,0.28,0.29,0.3,0.31,0.32,0.33,0.34,0.35], "tickSize": {"condition": {"test": "round(datum.value*100) % 5 === 0", "value": -8}, "value": -4}}},
  "y2": {"field": "b"}
 }},
{"data": {"name": "n2lo"}, "transform": [{"filter": "datum.p === 'TR'"}, {"fold": ["a", "b"], "as": ["bound", "v"]}],
 "mark": {"type": "line", "strokeWidth": 4, "clip": true, "strokeJoin": "round", "color": "black"},
 "encoding": {
  "x": {"field": "x", "type": "quantitative", "scale": {"domain": [0, 600], "nice": false, "zero": false},
   "axis": {"orient": "top", "title": null, "labels": false, "values": [0,20,40,60,80,100,120,140,160,180,200,220,240,260,280,300,320,340,360,380,400,420,440,460,480,500,520,540,560,580,600], "tickSize": {"condition": {"test": "datum.value % 100 === 0", "value": -8}, "value": -4}}},
  "y": {"field": "v", "type": "quantitative", "scale": {"domain": [-0.0095, 0.35], "nice": false, "zero": false},
   "axis": {"orient": "right", "title": null, "labels": false, "values": [0,0.01,0.02,0.03,0.04,0.05,0.06,0.07,0.08,0.09,0.1,0.11,0.12,0.13,0.14,0.15,0.16,0.17,0.18,0.19,0.2,0.21,0.22,0.23,0.24,0.25,0.26,0.27,0.28,0.29,0.3,0.31,0.32,0.33,0.34,0.35], "tickSize": {"condition": {"test": "round(datum.value*100) % 5 === 0", "value": -8}, "value": -4}}},
  "detail": {"field": "bound"}
 }},
{"data": {"name": "nsc"}, "transform": [{"filter": "datum.p === 'TR'"}],
 "mark": {"type": "line", "strokeWidth": 3, "clip": true},
 "encoding": {
  "x": {"field": "x", "type": "quantitative", "scale": {"domain": [0, 600], "nice": false, "zero": false}, "axis": null},
  "y": {"field": "y", "type": "quantitative", "scale": {"domain": [-0.0095, 0.35], "nice": false, "zero": false}, "axis": null},
  "color": {"field": "s", "type": "nominal", "scale": {"domain": ["NSC97a","NSC97b","NSC97c","NSC97d","NSC97e","NSC97f"], "range": ["#a52a2a","#0000ff","#00ff00","#ff0000","#ffa500","#ee82ee"]}, "legend": null}
 }},
{"data": {"values": [{}]}, "mark": {"type": "text", "text": "Entanglement Power\u2002\u2130\u0305(\ud835\udde6)", "align": "right", "baseline": "alphabetic", "fontSize": 21, "color": "black"},
 "encoding": {"x": {"datum": 583.5, "type": "quantitative", "axis": null}, "y": {"datum": 0.317, "type": "quantitative", "axis": null}}},
{"data": {"values": [{}]}, "mark": {"type": "text", "text": "\u03a3\u207b n", "align": "left", "baseline": "alphabetic", "fontSize": 24, "color": "black"},
 "encoding": {"x": {"datum": 120.6, "type": "quantitative", "axis": null}, "y": {"datum": 0.2138, "type": "quantitative", "axis": null}}},
{"data": {"values": [{}]}, "mark": {"type": "text", "text": "p", "align": "left", "baseline": "alphabetic", "fontSize": 19, "dx": -46.5, "dy": 44, "color": "black"},
 "encoding": {"x": {"datum": 300, "type": "quantitative", "axis": null}, "y": {"datum": -0.0095, "type": "quantitative", "axis": null}}},
{"data": {"values": [{}]}, "mark": {"type": "text", "text": "lab", "align": "left", "baseline": "alphabetic", "fontSize": 14, "dx": -34, "dy": 49, "color": "black"},
 "encoding": {"x": {"datum": 300, "type": "quantitative", "axis": null}, "y": {"datum": -0.0095, "type": "quantitative", "axis": null}}},
{"data": {"values": [{}]}, "mark": {"type": "text", "text": "(MeV)", "align": "left", "baseline": "alphabetic", "fontSize": 19, "dx": -9.5, "dy": 44, "color": "black"},
 "encoding": {"x": {"datum": 300, "type": "quantitative", "axis": null}, "y": {"datum": -0.0095, "type": "quantitative", "axis": null}}}
]
}
],
"spacing": 0, "bounds": "flush",
"resolve": {"scale": {"x": "independent", "y": "independent", "color": "independent", "fill": "independent"}}
},
{
"hconcat": [
{
"width": 377, "height": 351,
"resolve": {"axis": {"x": "independent", "y": "independent"}},
"layer": [
{"data": {"name": "n2lo"}, "transform": [{"filter": "datum.p === 'BL'"}],
 "mark": {"type": "area", "clip": true, "color": "#d3d3d3"},
 "encoding": {
  "x": {"field": "x", "type": "quantitative", "scale": {"domain": [0, 600], "nice": false, "zero": false},
   "axis": {"orient": "bottom", "title": null, "values": [0,20,40,60,80,100,120,140,160,180,200,220,240,260,280,300,320,340,360,380,400,420,440,460,480,500,520,540,560,580,600], "tickSize": {"condition": {"test": "datum.value % 100 === 0", "value": -8}, "value": -4}, "labelExpr": "datum.value % 100 === 0 ? format(datum.value, 'd') : ''"}},
  "y": {"field": "a", "type": "quantitative", "scale": {"domain": [-0.01, 0.231], "nice": false, "zero": false},
   "axis": {"orient": "left", "title": null, "values": [0,0.01,0.02,0.03,0.04,0.05,0.06,0.07,0.08,0.09,0.1,0.11,0.12,0.13,0.14,0.15,0.16,0.17,0.18,0.19,0.2,0.21,0.22,0.23], "tickSize": {"condition": {"test": "round(datum.value*100) % 5 === 0", "value": -8}, "value": -4}, "labelExpr": "round(datum.value*100) % 5 === 0 ? format(datum.value, '~g') : ''"}},
  "y2": {"field": "b"}
 }},
{"data": {"name": "n2lo"}, "transform": [{"filter": "datum.p === 'BL'"}, {"fold": ["a", "b"], "as": ["bound", "v"]}],
 "mark": {"type": "line", "strokeWidth": 4, "clip": true, "strokeJoin": "round", "color": "black"},
 "encoding": {
  "x": {"field": "x", "type": "quantitative", "scale": {"domain": [0, 600], "nice": false, "zero": false},
   "axis": {"orient": "top", "title": null, "labels": false, "values": [0,20,40,60,80,100,120,140,160,180,200,220,240,260,280,300,320,340,360,380,400,420,440,460,480,500,520,540,560,580,600], "tickSize": {"condition": {"test": "datum.value % 100 === 0", "value": -8}, "value": -4}}},
  "y": {"field": "v", "type": "quantitative", "scale": {"domain": [-0.01, 0.231], "nice": false, "zero": false},
   "axis": {"orient": "right", "title": null, "labels": false, "values": [0,0.01,0.02,0.03,0.04,0.05,0.06,0.07,0.08,0.09,0.1,0.11,0.12,0.13,0.14,0.15,0.16,0.17,0.18,0.19,0.2,0.21,0.22,0.23], "tickSize": {"condition": {"test": "round(datum.value*100) % 5 === 0", "value": -8}, "value": -4}}},
  "detail": {"field": "bound"}
 }},
{"data": {"name": "nsc"}, "transform": [{"filter": "datum.p === 'BL'"}],
 "mark": {"type": "line", "strokeWidth": 3, "clip": true},
 "encoding": {
  "x": {"field": "x", "type": "quantitative", "scale": {"domain": [0, 600], "nice": false, "zero": false}, "axis": null},
  "y": {"field": "y", "type": "quantitative", "scale": {"domain": [-0.01, 0.231], "nice": false, "zero": false}, "axis": null},
  "color": {"field": "s", "type": "nominal", "scale": {"domain": ["NSC97a","NSC97b","NSC97c","NSC97d","NSC97e","NSC97f"], "range": ["#a52a2a","#0000ff","#00ff00","#ff0000","#ffa500","#ee82ee"]}, "legend": null}
 }},
{"data": {"values": [{}]}, "mark": {"type": "text", "text": "Magic Power\u2002\u2133\u0305(\ud835\udde6)", "align": "right", "baseline": "alphabetic", "fontSize": 21, "color": "black"},
 "encoding": {"x": {"datum": 540, "type": "quantitative", "axis": null}, "y": {"datum": 0.208, "type": "quantitative", "axis": null}}},
{"data": {"values": [{}]}, "mark": {"type": "text", "text": "\u039b p", "align": "left", "baseline": "alphabetic", "fontSize": 24, "color": "black"},
 "encoding": {"x": {"datum": 30, "type": "quantitative", "axis": null}, "y": {"datum": 0.2038, "type": "quantitative", "axis": null}}},
{"data": {"values": [{}]}, "mark": {"type": "text", "text": "p", "align": "left", "baseline": "alphabetic", "fontSize": 19, "dx": -46.5, "dy": 42, "color": "black"},
 "encoding": {"x": {"datum": 300, "type": "quantitative", "axis": null}, "y": {"datum": -0.01, "type": "quantitative", "axis": null}}},
{"data": {"values": [{}]}, "mark": {"type": "text", "text": "lab", "align": "left", "baseline": "alphabetic", "fontSize": 14, "dx": -34, "dy": 47, "color": "black"},
 "encoding": {"x": {"datum": 300, "type": "quantitative", "axis": null}, "y": {"datum": -0.01, "type": "quantitative", "axis": null}}},
{"data": {"values": [{}]}, "mark": {"type": "text", "text": "(MeV)", "align": "left", "baseline": "alphabetic", "fontSize": 19, "dx": -9.5, "dy": 42, "color": "black"},
 "encoding": {"x": {"datum": 300, "type": "quantitative", "axis": null}, "y": {"datum": -0.01, "type": "quantitative", "axis": null}}}
]
},
{
"width": 378, "height": 351,
"resolve": {"axis": {"x": "independent", "y": "independent"}},
"layer": [
{"data": {"name": "n2lo"}, "transform": [{"filter": "datum.p === 'BR'"}],
 "mark": {"type": "area", "clip": true},
 "encoding": {
  "x": {"field": "x", "type": "quantitative", "scale": {"domain": [0, 600], "nice": false, "zero": false},
   "axis": {"orient": "bottom", "title": null, "values": [0,20,40,60,80,100,120,140,160,180,200,220,240,260,280,300,320,340,360,380,400,420,440,460,480,500,520,540,560,580,600], "tickSize": {"condition": {"test": "datum.value % 100 === 0", "value": -8}, "value": -4}, "labelExpr": "datum.value % 100 === 0 && datum.value > 0 ? format(datum.value, 'd') : ''"}},
  "y": {"field": "a", "type": "quantitative", "scale": {"domain": [-0.01, 0.231], "nice": false, "zero": false},
   "axis": {"orient": "left", "title": null, "labels": false, "values": [0,0.01,0.02,0.03,0.04,0.05,0.06,0.07,0.08,0.09,0.1,0.11,0.12,0.13,0.14,0.15,0.16,0.17,0.18,0.19,0.2,0.21,0.22,0.23], "tickSize": {"condition": {"test": "round(datum.value*100) % 5 === 0", "value": -8}, "value": -4}}},
  "y2": {"field": "b"},
  "fill": {"field": "s", "type": "nominal", "scale": {"domain": ["N2LO"], "range": ["#d3d3d3"]},
   "legend": {"orient": "none", "legendX": 295, "legendY": 72, "title": null, "padding": 0, "labelAlign": "right", "labelOffset": -47, "labelLimit": 0, "symbolSize": 96, "symbolType": "M-5,-0.7H5V0.7H-5Z", "symbolStrokeColor": "black", "symbolStrokeWidth": 3.5}}
 }},
{"data": {"name": "n2lo"}, "transform": [{"filter": "datum.p === 'BR'"}, {"fold": ["a", "b"], "as": ["bound", "v"]}],
 "mark": {"type": "line", "strokeWidth": 4, "clip": true, "strokeJoin": "round", "color": "black"},
 "encoding": {
  "x": {"field": "x", "type": "quantitative", "scale": {"domain": [0, 600], "nice": false, "zero": false},
   "axis": {"orient": "top", "title": null, "labels": false, "values": [0,20,40,60,80,100,120,140,160,180,200,220,240,260,280,300,320,340,360,380,400,420,440,460,480,500,520,540,560,580,600], "tickSize": {"condition": {"test": "datum.value % 100 === 0", "value": -8}, "value": -4}}},
  "y": {"field": "v", "type": "quantitative", "scale": {"domain": [-0.01, 0.231], "nice": false, "zero": false},
   "axis": {"orient": "right", "title": null, "labels": false, "values": [0,0.01,0.02,0.03,0.04,0.05,0.06,0.07,0.08,0.09,0.1,0.11,0.12,0.13,0.14,0.15,0.16,0.17,0.18,0.19,0.2,0.21,0.22,0.23], "tickSize": {"condition": {"test": "round(datum.value*100) % 5 === 0", "value": -8}, "value": -4}}},
  "detail": {"field": "bound"}
 }},
{"data": {"name": "nsc"}, "transform": [{"filter": "datum.p === 'BR'"}],
 "mark": {"type": "line", "strokeWidth": 3, "clip": true},
 "encoding": {
  "x": {"field": "x", "type": "quantitative", "scale": {"domain": [0, 600], "nice": false, "zero": false}, "axis": null},
  "y": {"field": "y", "type": "quantitative", "scale": {"domain": [-0.01, 0.231], "nice": false, "zero": false}, "axis": null},
  "color": {"field": "s", "type": "nominal", "scale": {"domain": ["NSC97a","NSC97b","NSC97c","NSC97d","NSC97e","NSC97f"], "range": ["#a52a2a","#0000ff","#00ff00","#ff0000","#ffa500","#ee82ee"]},
   "legend": {"orient": "none", "legendX": 295, "legendY": 92, "title": null, "padding": 0, "labelAlign": "right", "labelOffset": -47, "labelLimit": 0, "rowPadding": 0, "symbolSize": 96, "symbolType": "M-5,0H5", "symbolStrokeWidth": 3}}
 }},
{"data": {"values": [{}]}, "mark": {"type": "text", "text": "Entanglement Power\u2002\u2130\u0305(\ud835\udde6)", "align": "right", "baseline": "alphabetic", "fontSize": 21, "color": "black"},
 "encoding": {"x": {"datum": 583.5, "type": "quantitative", "axis": null}, "y": {"datum": 0.208, "type": "quantitative", "axis": null}}},
{"data": {"values": [{}]}, "mark": {"type": "text", "text": "\u039b p", "align": "left", "baseline": "alphabetic", "fontSize": 24, "color": "black"},
 "encoding": {"x": {"datum": 30.6, "type": "quantitative", "axis": null}, "y": {"datum": 0.2038, "type": "quantitative", "axis": null}}},
{"data": {"values": [{}]}, "mark": {"type": "text", "text": "p", "align": "left", "baseline": "alphabetic", "fontSize": 19, "dx": -46.5, "dy": 42, "color": "black"},
 "encoding": {"x": {"datum": 300, "type": "quantitative", "axis": null}, "y": {"datum": -0.01, "type": "quantitative", "axis": null}}},
{"data": {"values": [{}]}, "mark": {"type": "text", "text": "lab", "align": "left", "baseline": "alphabetic", "fontSize": 14, "dx": -34, "dy": 47, "color": "black"},
 "encoding": {"x": {"datum": 300, "type": "quantitative", "axis": null}, "y": {"datum": -0.01, "type": "quantitative", "axis": null}}},
{"data": {"values": [{}]}, "mark": {"type": "text", "text": "(MeV)", "align": "left", "baseline": "alphabetic", "fontSize": 19, "dx": -9.5, "dy": 42, "color": "black"},
 "encoding": {"x": {"datum": 300, "type": "quantitative", "axis": null}, "y": {"datum": -0.01, "type": "quantitative", "axis": null}}}
]
}
],
"spacing": 0, "bounds": "flush",
"resolve": {"scale": {"x": "independent", "y": "independent", "color": "independent", "fill": "independent"}}
}
]
}
